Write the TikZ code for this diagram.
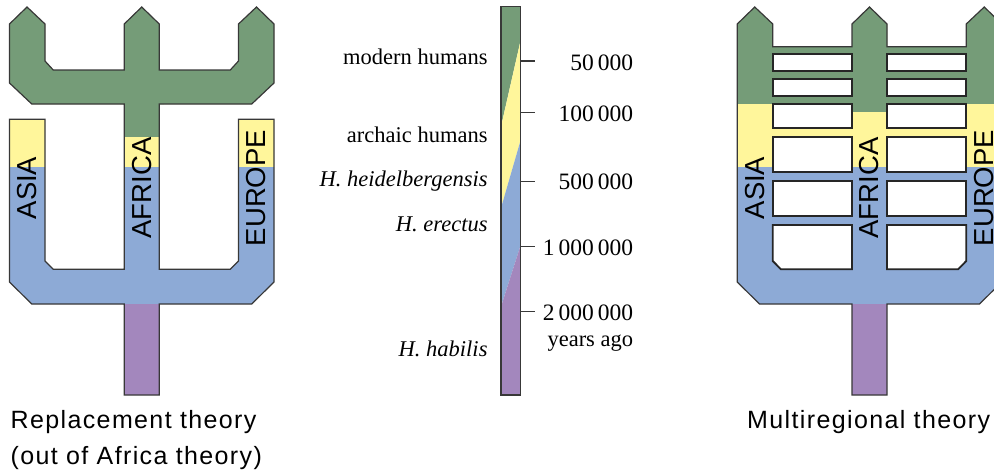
\documentclass[tikz,border=0pt]{standalone}
\usepackage{fontspec}
\setmainfont{Liberation Serif}
\newfontfamily\sansfont{Liberation Sans}
\newfontfamily\capfont[LetterSpace=5.5]{Liberation Sans}

\definecolor{modgreen}{RGB}{117,156,120}
\definecolor{archyellow}{RGB}{255,246,155}
\definecolor{erectblue}{RGB}{141,170,214}
\definecolor{habpurple}{RGB}{163,135,189}

\newcommand\repltree{(-132.25,24) -- (-114.75,7) -- (-96.75,24) -- (-96.75,61) -- (-88.5,70) -- (-17.5,70) -- (-17.5,24) -- (0,7) -- (17.5,24) -- (17.5,70) -- (88.5,70) -- (96.75,61) -- (96.75,24) -- (114.75,7) -- (132.25,24) -- (132.25,83) -- (110,104) -- (17.5,104) -- (17.5,269.3) -- (88.5,269.3) -- (96.75,261) -- (96.75,119.3) -- (132.25,119.3) -- (132.25,282) -- (110,304) -- (17.5,304) -- (17.5,395) -- (-17.5,395) -- (-17.5,304) -- (-110,304) -- (-132.25,282) -- (-132.25,119.3) -- (-96.75,119.3) -- (-96.75,261) -- (-88.5,269.3) -- (-17.5,269.3) -- (-17.5,104) -- (-110,104) -- (-132.25,83) -- cycle}
\newcommand\multitree{(-132.25,24) -- (-114.75,7) -- (-96.75,24) -- (-96.75,46.7) -- (-17.5,46.7) -- (-17.5,24) -- (0,7) -- (17.5,24) -- (17.5,46.7) -- (96.75,46.7) -- (96.75,24) -- (114.75,7) -- (132.25,24) -- (132.25,282) -- (110,304) -- (17.5,304) -- (17.5,395) -- (-17.5,395) -- (-17.5,304) -- (-110,304) -- (-132.25,282) -- cycle}
\newcommand\gap{\hspace{0.17em}}

\tikzset{
  outline/.style={draw=black!78, line width=1.2pt},
  window/.style={fill=white, draw=black!85, line width=1.8pt},
  region/.style={font=\sansfont\fontsize{27.5}{30}\selectfont, rotate=90, inner sep=0pt},
  caption/.style={font=\capfont\fontsize{25}{30}\selectfont, anchor=base west, inner sep=0pt},
  species/.style={font=\fontsize{22.5}{26}\selectfont, anchor=base east, inner sep=0pt},
  years/.style={species, font=\fontsize{23.5}{26}\selectfont}
}

\begin{document}
\begin{tikzpicture}[x=1pt,y=-1pt]
\useasboundingbox (0,0) rectangle (994,472);

\begin{scope}[shift={(141.75,0)}]
  \begin{scope}
    \clip \repltree;
    \fill[archyellow] (-140,0) rectangle (140,167.3);
    \fill[modgreen] (-140,0) rectangle (140,112);
    \fill[modgreen] (-22,0) rectangle (22,137);
    \fill[erectblue] (-140,167.3) rectangle (140,304);
    \fill[habpurple] (-140,304) rectangle (140,400);
  \end{scope}
  \draw[outline] \repltree;
  \node[region] (asia1) at (-114.75,188) {ASIA};
  \node[region] (africa1) at (0,188) {AFRICA};
  \node[region] (europe1) at (114.75,188) {EUROPE};
\end{scope}

\begin{scope}[shift={(869.5,0)}]
  \begin{scope}
    \clip \multitree;
    \fill[archyellow] (-140,0) rectangle (140,167.3);
    \fill[modgreen] (-140,0) rectangle (140,104.3);
    \fill[modgreen] (-22,0) rectangle (22,112.3);
    \fill[erectblue] (-140,167.3) rectangle (140,304);
    \fill[habpurple] (-140,304) rectangle (140,400);
  \end{scope}
  \foreach \ya/\yb in {54.3/70.7, 78.7/96, 104.3/127.7, 136.7/171.7, 180.7/216} {
    \draw[window] (-96.75,\ya) rectangle (-17.5,\yb);
    \draw[window] (17.5,\ya) rectangle (96.75,\yb);
  }
  \draw[window] (-96.75,225) -- (-17.5,225) -- (-17.5,269.3) -- (-88.5,269.3) -- (-96.75,261) -- cycle;
  \draw[window] (96.75,225) -- (17.5,225) -- (17.5,269.3) -- (88.5,269.3) -- (96.75,261) -- cycle;
  \draw[outline] \multitree;
  \node[region] (asia2) at (-114.75,188) {ASIA};
  \node[region] (africa2) at (0,188) {AFRICA};
  \node[region] (europe2) at (114.75,188) {EUROPE};
\end{scope}

\fill[modgreen] (501,6.7) -- (520.7,6.7) -- (520.7,40) -- (501,126.7) -- cycle;
\fill[archyellow] (501,126.7) -- (520.7,40) -- (520.7,140) -- (501,208) -- cycle;
\fill[erectblue] (501,208) -- (520.7,140) -- (520.7,245) -- (501,306.7) -- cycle;
\fill[habpurple] (501,306.7) -- (520.7,245) -- (520.7,395) -- (501,395) -- cycle;
\draw[outline] (501,6.7) rectangle (520.7,395);

\foreach \y/\b/\t [count=\i] in {61/70.5/50\gap000, 112.7/121.5/100\gap000, 181.7/189/500\gap000, 246.7/255/1\gap000\gap000, 311.7/320/2\gap000\gap000} {
  \draw[outline] (520.7,\y) -- (535,\y);
  \node[years] (age\i) at (633.3,\b) {\t};
}
\node[species] (yearsago) at (633.3,346.7) {years ago};

\node[species] (modern) at (487.7,64.3) {modern humans};
\node[species] (archaic) at (487.7,142.7) {archaic humans};
\node[species] (heidel) at (487.7,186.7) {\itshape H. heidelbergensis};
\node[species] (erectus) at (487.7,231.7) {\itshape H. erectus};
\node[species] (habilis) at (487.7,356.7) {\itshape H. habilis};

\node[caption] (repl1) at (10.5,428.5) {Replacement theory};
\node[caption] (repl2) at (10.5,464) {(out of Africa theory)};
\node[caption] (multi) at (747,428.5) {Multiregional theory};
\end{tikzpicture}
\end{document}
